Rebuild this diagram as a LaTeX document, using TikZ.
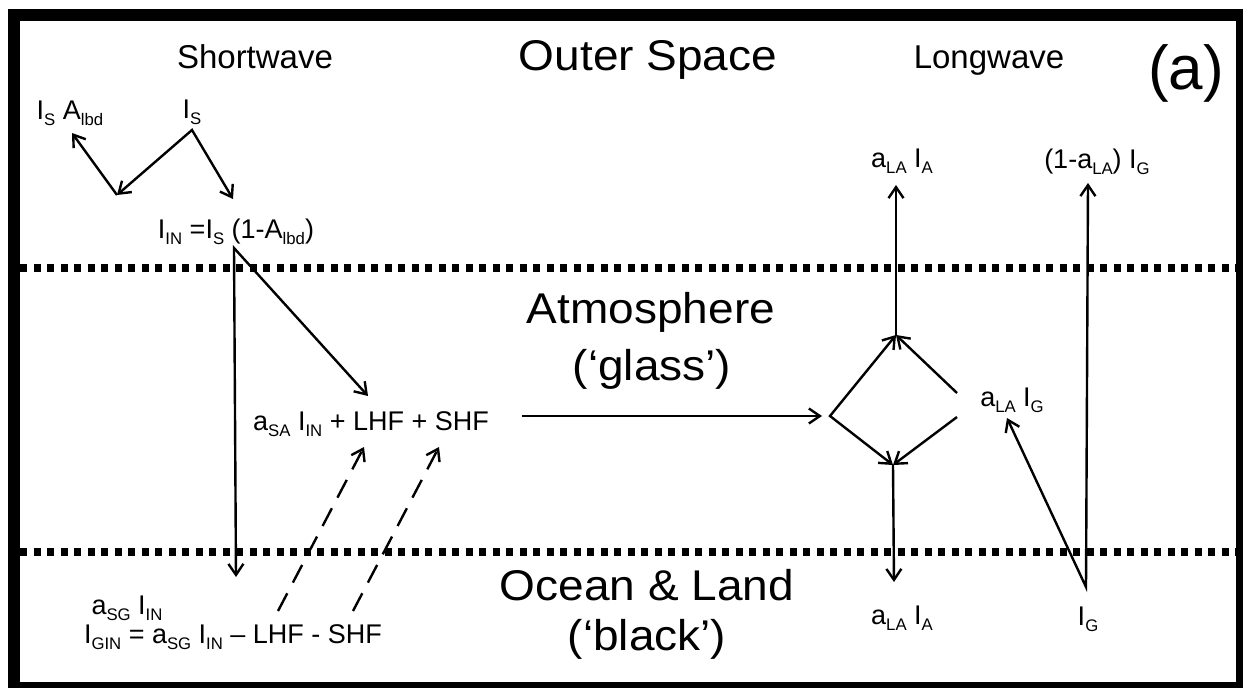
\documentclass[tikz,border=0pt]{standalone}
\usepackage{fontspec}
\setmainfont{Liberation Sans}
\usepackage{graphicx}
\usetikzlibrary{arrows.meta}
\newcommand\lo[1]{\raisebox{-0.22em}{\scalebox{0.62}{#1}}}
\newcommand\hs[1]{\scalebox{1.07}[1]{#1}}
\begin{document}
\begin{tikzpicture}[x=1pt,y=-1pt,
  lbl/.style={font=\fontsize{27}{30}\selectfont, inner sep=0pt},
  hdr/.style={font=\fontsize{33}{38}\selectfont, inner sep=0pt, anchor=base},
  big/.style={font=\fontsize{43}{50}\selectfont, inner sep=0pt, anchor=base},
  tipb/.tip={Straight Barb[length=11pt,width=15pt]},
  flow/.style={line width=2.4pt, -tipb},
  bflow/.style={line width=2.4pt, tipb-tipb},
  dflow/.style={flow, dash pattern=on 20pt off 12pt},
  layer/.style={line width=8pt, dash pattern=on 7pt off 6.5pt},
]
\useasboundingbox (0,0) rectangle (1243,688);
\clip (0,0) rectangle (1243,688);
\fill[white] (0,0) rectangle (1243,688);
\draw[line width=12pt] (14,15) rectangle (1242,688);

% layer boundaries
\coordinate (l1a) at (20,268);
\coordinate (l1b) at (1236,268);
\coordinate (l2a) at (20,552);
\coordinate (l2b) at (1236,552);
\draw[layer] (l1a) -- (l1b);
\draw[layer] (l2a) -- (l2b);

% headings
\node[hdr] (sw) at (255,68) {Shortwave};
\node[big] (os) at (648,70) {\hs{Outer Space}};
\node[hdr] (lw) at (989,68) {Longwave};
\node[inner sep=0pt, font=\fontsize{62}{70}\selectfont] (pa) at (1186,73) {(a)};
\node[big] (atm) at (651,323) {\hs{Atmosphere}};
\node[big] (gls) at (652,380) {\hs{(`glass')}};
\node[big] (ocn) at (647,600) {\hs{Ocean \& Land}};
\node[big] (blk) at (647,650) {\hs{(`black')}};

% shortwave labels
\node[lbl] (isa) at (70,113) {I\lo{S} A\lo{lbd}};
\node[lbl] (is) at (192,112) {I\lo{S}};
\node[lbl] (iin) at (236,232) {I\lo{IN} =I\lo{S} (1-A\lo{lbd})};
\node[lbl] (asa) at (371,424) {a\lo{SA} I\lo{IN} + LHF + SHF};
\node[lbl] (asg) at (127,608) {a\lo{SG} I\lo{IN}};
\node[lbl] (igin) at (233,637) {I\lo{GIN} = a\lo{SG} I\lo{IN} -- LHF - SHF};

% longwave labels
\node[lbl] (lat) at (902,161) {a\lo{LA} I\lo{A}};
\node[lbl] (lg) at (1097,162) {(1-a\lo{LA}) I\lo{G}};
\node[lbl] (lag) at (1012,400) {a\lo{LA} I\lo{G}};
\node[lbl] (lab) at (902,618) {a\lo{LA} I\lo{A}};
\node[lbl] (ig) at (1088,619) {I\lo{G}};

% shortwave arrows
\coordinate (z0) at (192,130);
\coordinate (z1) at (117,195);
\coordinate (z2) at (72,133);
\coordinate (z3) at (233,199);
\draw[bflow] (z1) -- (z0) -- (z3);
\draw[flow] (z1) -- (z2);

\coordinate (p0) at (234,248);
\coordinate (pg) at (236,577);
\coordinate (pa1) at (368,396);
\draw[bflow] (pg) -- (p0) -- (pa1);

\coordinate (d1s) at (278,611);
\coordinate (d1e) at (364,447);
\coordinate (d2s) at (353,611);
\coordinate (d2e) at (439,447);
\draw[dflow] (d1s) -- (d1e);
\draw[dflow] (d2s) -- (d2e);

% horizontal transfer
\coordinate (hs) at (522,416);
\coordinate (he) at (822,416);
\draw[flow] (hs) -- (he);

% diamond
\coordinate (dl) at (830,416);
\coordinate (dt) at (896,335);
\coordinate (db) at (893,465);
\coordinate (dru) at (957,393);
\coordinate (drl) at (957,417);
\draw[bflow] (dt) -- (dl) -- (db);
\draw[flow] (dru) -- (dt);
\draw[flow] (drl) -- (db);
\coordinate (upA) at (896,185);
\coordinate (dnA) at (894,582);
\draw[flow] (dt) -- (upA);
\draw[flow] (db) -- (dnA);

% ground emission
\coordinate (g0) at (1086,587);
\coordinate (g1) at (1007,418);
\coordinate (g2) at (1088,183);
\draw[bflow] (g1) -- (g0) -- (g2);
\end{tikzpicture}
\end{document}
